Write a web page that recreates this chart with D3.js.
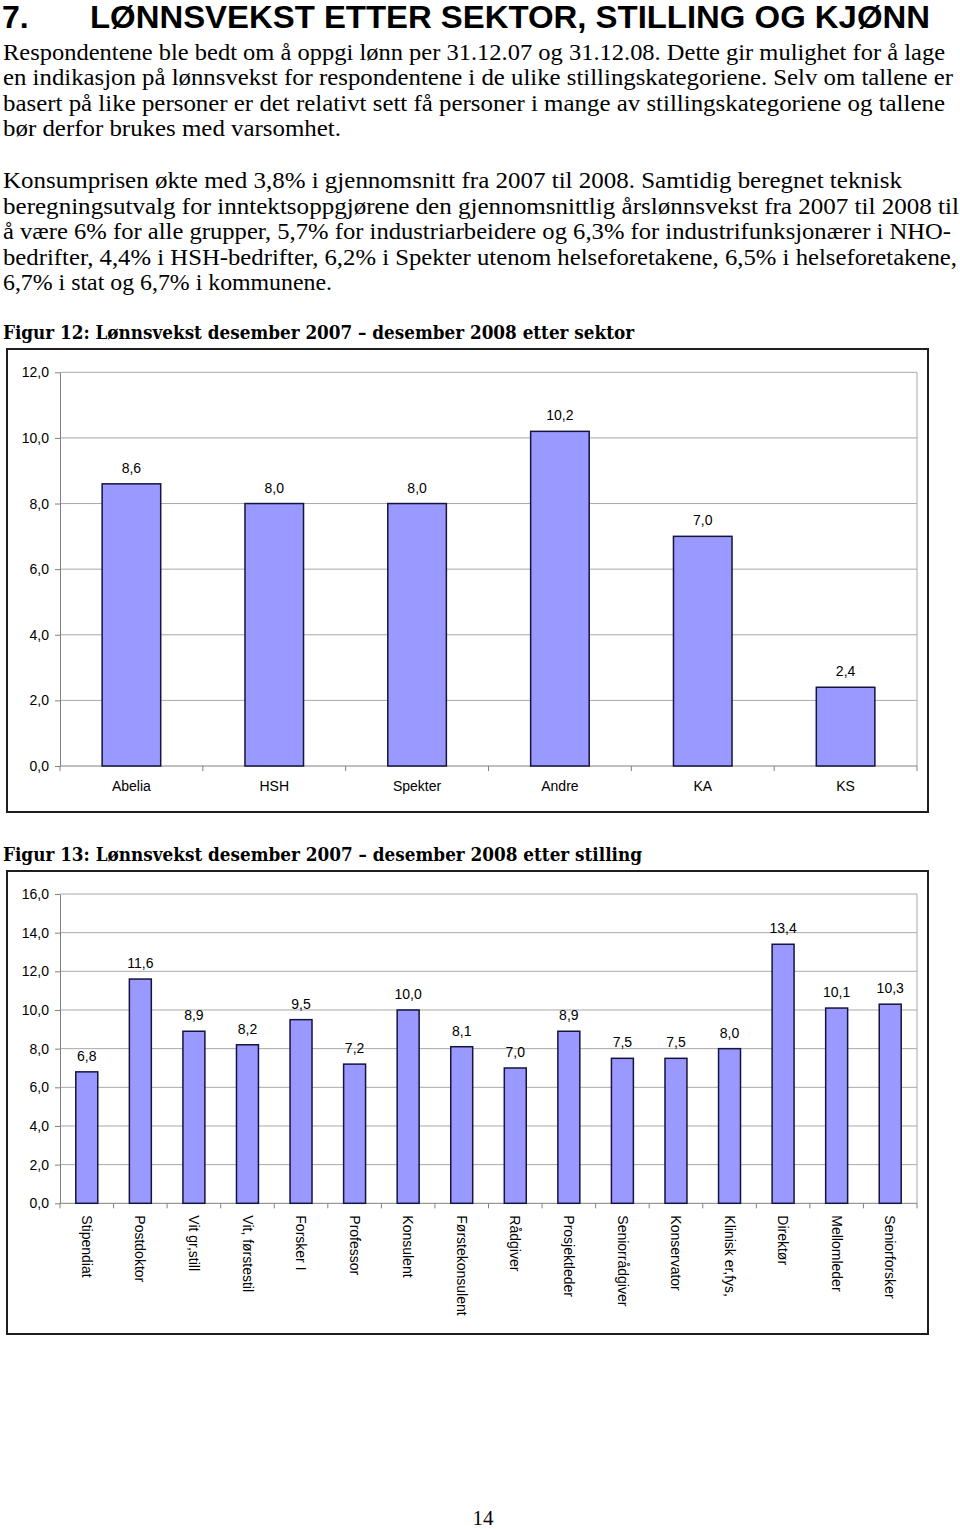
<!DOCTYPE html>
<html>
<head>
<meta charset="utf-8">
<script src="https://cdn.jsdelivr.net/npm/d3@7"></script>
<style>
  body { margin: 0; background: #fff; }
  svg { display: block; }
</style>
</head>
<body>
<svg id="page"></svg>
<script>
// ----------------- TEXT CONTENT -----------------
const titleNumber = "7.";
const titleText = "LØNNSVEKST ETTER SEKTOR, STILLING OG KJØNN";

const para1 = [
  "Respondentene ble bedt om å oppgi lønn per 31.12.07 og 31.12.08. Dette gir mulighet for å lage",
  "en indikasjon på lønnsvekst for respondentene i de ulike stillingskategoriene. Selv om tallene er",
  "basert på like personer er det relativt sett få personer i mange av stillingskategoriene og tallene",
  "bør derfor brukes med varsomhet."
];

const para2 = [
  "Konsumprisen økte med 3,8% i gjennomsnitt fra 2007 til 2008. Samtidig beregnet teknisk",
  "beregningsutvalg for inntektsoppgjørene den gjennomsnittlig årslønnsvekst fra 2007 til 2008 til",
  "å være 6% for alle grupper, 5,7% for industriarbeidere og 6,3% for industrifunksjonærer i NHO-",
  "bedrifter, 4,4% i HSH-bedrifter, 6,2% i Spekter utenom helseforetakene, 6,5% i helseforetakene,",
  "6,7% i stat og 6,7% i kommunene."
];

const caption12 = "Figur 12: Lønnsvekst desember 2007 – desember 2008 etter sektor";
const caption13 = "Figur 13: Lønnsvekst desember 2007 – desember 2008 etter stilling";
const pageNumber = "14";

// ----------------- DATA -----------------
const sectors = ["Abelia", "HSH", "Spekter", "Andre", "KA", "KS"];
const sectorGrowth = [8.6, 8.0, 8.0, 10.2, 7.0, 2.4];
const sectorTicks = [0, 2, 4, 6, 8, 10, 12];

const positions = [
  "Stipendiat", "Postdoktor", "Vit gr,still", "Vit, førstestil", "Forsker I",
  "Professor", "Konsulent", "Førstekonsulent", "Rådgiver", "Prosjektleder",
  "Seniorrådgiver", "Konservator", "Klinisk er,fys,", "Direktør",
  "Mellomleder", "Seniorforsker"
];
const positionGrowth = [6.8, 11.6, 8.9, 8.2, 9.5, 7.2, 10.0, 8.1, 7.0, 8.9, 7.5, 7.5, 8.0, 13.4, 10.1, 10.3];
const positionTicks = [0, 2, 4, 6, 8, 10, 12, 14, 16];

// line widths of the page text (layout only)
const para1Widths = [942, 950, 942, 338];
const para2Widths = [899, 956, 948, 954, 329];

// ----------------- SETUP -----------------
const svg = d3.select("#page").attr("width", 960).attr("height", 1529);
svg.append("rect").attr("width", 960).attr("height", 1529).attr("fill", "#fff");

const nb = d3.formatLocale({ decimal: ",", thousands: " ", grouping: [3], currency: ["", " kr"] });
const fmt = nb.format(".1f");

const serif = "'Liberation Serif', 'DejaVu Serif', serif";
const serifBold = "'DejaVu Serif', 'Liberation Serif', serif";
const sans = "'Liberation Sans', Arial, sans-serif";

// ----------------- HEADING -----------------
svg.append("text")
  .attr("x", 2).attr("y", 28)
  .style("font-family", sans).style("font-weight", "bold").style("font-size", "32px")
  .text(titleNumber);

svg.append("text")
  .attr("x", 90).attr("y", 28)
  .attr("textLength", 840).attr("lengthAdjust", "spacingAndGlyphs")
  .style("font-family", sans).style("font-weight", "bold").style("font-size", "32px")
  .text(titleText);

function paragraph(lines, widths, y0) {
  svg.append("g")
    .selectAll("text")
    .data(lines)
    .enter()
    .append("text")
    .attr("x", 3)
    .attr("y", (d, i) => y0 + i * 25.6)
    .attr("textLength", (d, i) => widths[i])
    .attr("lengthAdjust", "spacingAndGlyphs")
    .style("font-family", serif)
    .style("font-size", "23px")
    .text(d => d);
}

paragraph(para1, para1Widths, 59.5);
paragraph(para2, para2Widths, 188);

function caption(txt, y, width) {
  svg.append("text")
    .attr("x", 3).attr("y", y)
    .attr("textLength", width).attr("lengthAdjust", "spacingAndGlyphs")
    .style("font-family", serifBold).style("font-weight", "bold").style("font-size", "18px")
    .text(txt);
}

caption(caption12, 339, 631);
caption(caption13, 861, 639);

// ----------------- BAR CHART -----------------
function drawChart(opts) {
  const { frame, plot, cats, vals, ticks, rotate } = opts;

  svg.append("rect")
    .attr("x", frame.x).attr("y", frame.y)
    .attr("width", frame.w).attr("height", frame.h)
    .attr("fill", "#fff")
    .attr("stroke", "#1e1e1e")
    .attr("stroke-width", 2);

  const x = d3.scaleBand()
    .domain(cats)
    .range([plot.left, plot.right])
    .paddingInner(0.59)
    .paddingOuter(0.295);

  const y = d3.scaleLinear()
    .domain([0, d3.max(ticks)])
    .range([plot.bottom, plot.top]);

  // gridlines
  svg.append("g")
    .selectAll("line")
    .data(ticks.filter(t => t > 0))
    .enter()
    .append("line")
    .attr("x1", plot.left).attr("x2", plot.right)
    .attr("y1", d => y(d)).attr("y2", d => y(d))
    .attr("stroke", "#a8a8a8").attr("stroke-width", 1);

  // right border of plot area
  svg.append("line")
    .attr("x1", plot.right).attr("x2", plot.right)
    .attr("y1", y(d3.max(ticks))).attr("y2", y(0))
    .attr("stroke", "#a8a8a8").attr("stroke-width", 1);

  // y axis
  const yAxis = svg.append("g")
    .attr("transform", "translate(" + plot.left + ",0)")
    .call(d3.axisLeft(y).tickValues(ticks).tickSize(5).tickSizeOuter(0).tickPadding(6).tickFormat(fmt));
  yAxis.select(".domain").attr("stroke", "#808080");
  yAxis.selectAll(".tick line").attr("stroke", "#808080");
  yAxis.selectAll(".tick text")
    .attr("fill", "#000")
    .style("font-family", sans).style("font-size", "14px");

  // x axis line with ticks between categories
  svg.append("line")
    .attr("x1", plot.left).attr("x2", plot.right)
    .attr("y1", y(0)).attr("y2", y(0))
    .attr("stroke", "#808080").attr("stroke-width", 1);

  svg.append("g")
    .selectAll("line")
    .data(d3.range(cats.length + 1))
    .enter()
    .append("line")
    .attr("x1", i => plot.left + i * x.step())
    .attr("x2", i => plot.left + i * x.step())
    .attr("y1", y(0)).attr("y2", y(0) + 5)
    .attr("stroke", "#808080");

  // bars
  const rows = cats.map((c, i) => ({ cat: c, val: vals[i] }));

  svg.append("g")
    .selectAll("rect")
    .data(rows)
    .enter()
    .append("rect")
    .attr("x", d => x(d.cat))
    .attr("y", d => y(d.val))
    .attr("width", x.bandwidth())
    .attr("height", d => y(0) - y(d.val))
    .attr("fill", "#9999ff")
    .attr("stroke", "#14143c")
    .attr("stroke-width", 1.5);

  // value labels
  svg.append("g")
    .selectAll("text")
    .data(rows)
    .enter()
    .append("text")
    .attr("x", d => x(d.cat) + x.bandwidth() / 2)
    .attr("y", d => y(d.val) - 11)
    .attr("text-anchor", "middle")
    .style("font-family", sans).style("font-size", "14px")
    .text(d => fmt(d.val));

  // category labels
  const labels = svg.append("g")
    .selectAll("text")
    .data(cats)
    .enter()
    .append("text")
    .style("font-family", sans).style("font-size", "14px")
    .text(d => d);

  if (rotate) {
    labels
      .attr("transform", d => "translate(" + (x(d) + x.bandwidth() / 2) + "," + (y(0) + 12) + ") rotate(90)")
      .attr("dy", "0.35em")
      .attr("text-anchor", "start");
  } else {
    labels
      .attr("x", d => x(d) + x.bandwidth() / 2)
      .attr("y", y(0) + 25)
      .attr("text-anchor", "middle");
  }
}

drawChart({
  frame: { x: 7, y: 349, w: 921, h: 463 },
  plot: { left: 60, right: 917, top: 372.3, bottom: 766 },
  cats: sectors,
  vals: sectorGrowth,
  ticks: sectorTicks,
  rotate: false
});

drawChart({
  frame: { x: 7, y: 871, w: 921, h: 463 },
  plot: { left: 60, right: 917, top: 894, bottom: 1203.3 },
  cats: positions,
  vals: positionGrowth,
  ticks: positionTicks,
  rotate: true
});

// ----------------- PAGE NUMBER -----------------
svg.append("text")
  .attr("x", 483).attr("y", 1525)
  .attr("text-anchor", "middle")
  .style("font-family", serif).style("font-size", "21px")
  .text(pageNumber);
</script>
</body>
</html>
